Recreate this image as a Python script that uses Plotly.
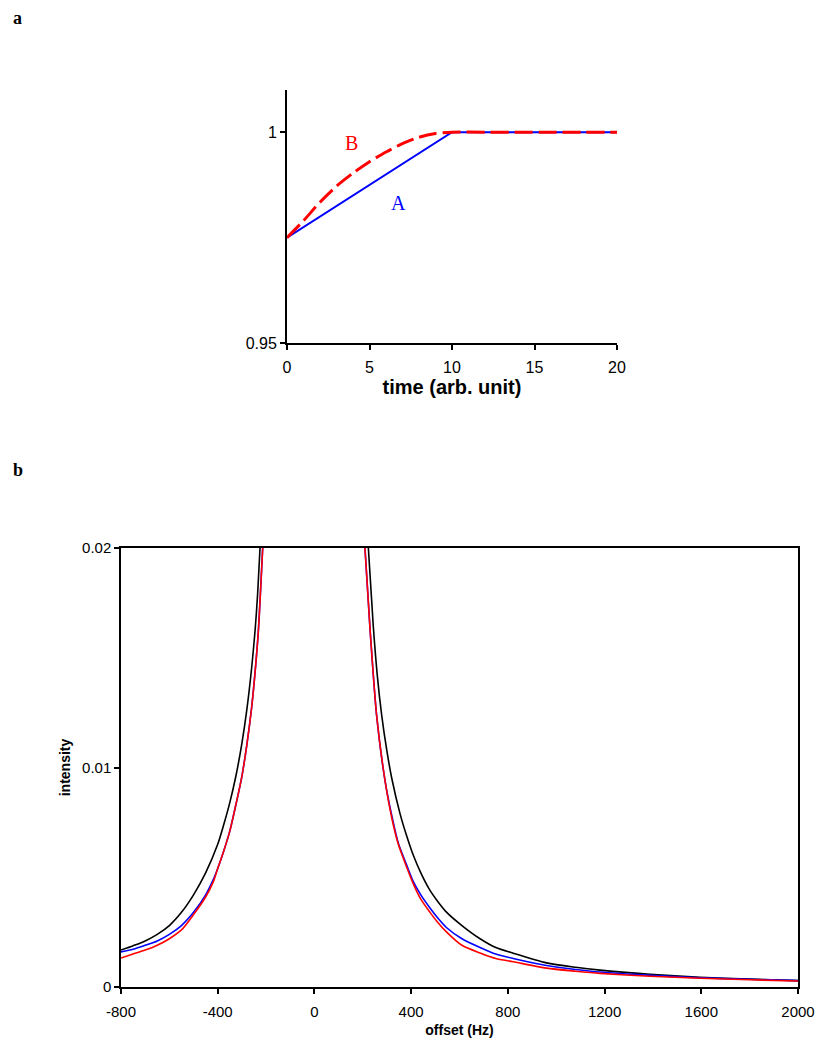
import plotly.graph_objects as go

# ---------- panel a data ----------
time_a = [0, 10, 20]
series_A = [0.975, 1.0, 1.0]
time_b = [0, 1, 2, 3, 4, 5, 6, 7, 8, 9, 10, 12, 14, 16, 18, 20]
series_B = [0.975, 0.979, 0.9834, 0.9872, 0.9903, 0.9930, 0.9953, 0.9973,
            0.9988, 0.9997, 1.0, 1.0, 1.0, 1.0, 1.0, 1.0]
a_xticks = [0, 5, 10, 15, 20]
a_yticks = [0.95, 1.0]
a_yticklabels = ["0.95", "1"]

# ---------- panel b data ----------
black_left_x = [-800, -750, -700, -650, -600, -550, -500, -450, -400, -375,
                -350, -325, -300, -280, -260, -245, -235, -225]
black_left_y = [0.00168, 0.00188, 0.0021, 0.0024, 0.0028, 0.0034, 0.0042,
                0.0052, 0.0065, 0.0074, 0.0084, 0.0096, 0.0111, 0.0126,
                0.0145, 0.0163, 0.0179, 0.0200]
black_right_x = [223, 243, 260, 278, 299, 320, 354, 381, 409, 440, 478, 510,
                 547, 610, 685, 750, 822, 960, 1080, 1181, 1388, 1594, 1801,
                 2000]
black_right_y = [0.0200, 0.0165, 0.0142, 0.0124, 0.0108, 0.0095, 0.0079,
                 0.0069, 0.0060, 0.0052, 0.0044, 0.0039, 0.0034, 0.0028,
                 0.0022, 0.0018, 0.00154, 0.00110, 0.00090, 0.00077,
                 0.00058, 0.00044, 0.00036, 0.00029]

blue_left_x = [-800, -750, -700, -650, -600, -550, -500, -450, -418, -400,
               -375, -350, -325, -300, -280, -260, -245, -232, -214]
blue_left_y = [0.0016, 0.00172, 0.0019, 0.0021, 0.0024, 0.0028, 0.0034,
               0.0042, 0.0049, 0.0054, 0.0062, 0.0071, 0.0083, 0.0096,
               0.0110, 0.0127, 0.0144, 0.0162, 0.0200]
blue_right_x = [209, 230, 257, 292, 320, 347, 380, 409, 440, 478, 506, 547,
                610, 685, 750, 822, 960, 1080, 1181, 1388, 1594, 1801, 2000]
blue_right_y = [0.0200, 0.0163, 0.0124, 0.0094, 0.0078, 0.00655, 0.0056,
                0.0048, 0.0042, 0.0036, 0.0032, 0.0027, 0.0022, 0.0018,
                0.0015, 0.0013, 0.00098, 0.00080, 0.00068, 0.00053, 0.00042,
                0.00035, 0.00029]

red_left_x = [-800, -750, -700, -650, -600, -550, -500, -450, -418, -400,
              -375, -350, -325, -300, -280, -260, -245, -232, -214]
red_left_y = [0.00132, 0.0015, 0.00168, 0.0019, 0.0022, 0.0026, 0.0033,
              0.0041, 0.0048, 0.0054, 0.0062, 0.0071, 0.0083, 0.0096,
              0.0110, 0.0127, 0.0144, 0.0162, 0.0200]
red_right_x = [209, 230, 257, 292, 320, 347, 380, 409, 440, 478, 506, 547,
               610, 685, 750, 822, 960, 1080, 1181, 1388, 1594, 1801, 2000]
red_right_y = [0.0200, 0.0163, 0.0124, 0.0094, 0.0077, 0.0065, 0.0055,
               0.0047, 0.0040, 0.0034, 0.0030, 0.0025, 0.0019, 0.00155,
               0.0013, 0.00115, 0.00086, 0.00072, 0.00062, 0.00049,
               0.0004, 0.00033, 0.00027]

b_xticks = [-800, -400, 0, 400, 800, 1200, 1600, 2000]
b_xticklabels = ["-800", "-400", "0", "400", "800", "1200", "1600", "2000"]
b_yticks = [0, 0.01, 0.02]
b_yticklabels = ["0", "0.01", "0.02"]


def join(lx, ly, rx, ry):
    return lx + [None] + rx, ly + [None] + ry


SANS = "Liberation Sans, Arial, sans-serif"
SERIF = "Liberation Serif, Times New Roman, serif"

fig = go.Figure()

# panel a
fig.add_trace(go.Scatter(x=time_a, y=series_A, mode="lines",
                         line=dict(color="#0000FF", width=2),
                         xaxis="x", yaxis="y", showlegend=False))
fig.add_trace(go.Scatter(x=time_b, y=series_B, mode="lines",
                         line=dict(color="#FF0000", width=3, dash="18px,6px",
                                   shape="spline", smoothing=0.6),
                         xaxis="x", yaxis="y", showlegend=False))

# panel b
curve_line = dict(width=1.6, shape="spline", smoothing=0.7)
bx, by = join(black_left_x, black_left_y, black_right_x, black_right_y)
fig.add_trace(go.Scatter(x=bx, y=by, mode="lines", connectgaps=False,
                         line=dict(color="#000000", **curve_line),
                         xaxis="x2", yaxis="y2", showlegend=False))
ux, uy = join(blue_left_x, blue_left_y, blue_right_x, blue_right_y)
fig.add_trace(go.Scatter(x=ux, y=uy, mode="lines", connectgaps=False,
                         line=dict(color="#0000FF", **curve_line),
                         xaxis="x2", yaxis="y2", showlegend=False))
rx, ry = join(red_left_x, red_left_y, red_right_x, red_right_y)
fig.add_trace(go.Scatter(x=rx, y=ry, mode="lines", connectgaps=False,
                         line=dict(color="#FF0000", **curve_line),
                         xaxis="x2", yaxis="y2", showlegend=False))

# page body has an 8px margin: figure covers screen px 8..820 x 8..1042
OFF = 8
W, H = 812, 1034


def fx(sx):
    return (sx - OFF) / W


def fy(sy):
    return 1 - (sy - OFF) / H


fig.update_layout(
    width=W, height=H,
    margin=dict(l=0, r=0, t=0, b=0, autoexpand=False),
    paper_bgcolor="white", plot_bgcolor="white",
    font=dict(family=SANS, color="black"),
    xaxis=dict(domain=[fx(287), fx(617)], range=[0, 20],
               tickvals=a_xticks, ticks="outside", ticklen=5, tickwidth=2,
               tickcolor="black", showline=True, linecolor="black",
               linewidth=2, showgrid=False, zeroline=False,
               automargin=False, ticklabelstandoff=4,
               tickfont=dict(size=16, family=SANS),
               title=dict(text="<b>time (arb. unit)</b>",
                          font=dict(size=20, family=SANS), standoff=4),
               anchor="y"),
    yaxis=dict(domain=[fy(343), fy(90)], range=[0.95, 1.01],
               tickvals=a_yticks, ticktext=a_yticklabels,
               ticks="outside", ticklen=5, tickwidth=2, tickcolor="black",
               showline=True, linecolor="black", linewidth=2,
               showgrid=False, zeroline=False, automargin=False,
               tickfont=dict(size=16, family=SANS), anchor="x"),
    xaxis2=dict(domain=[fx(121), fx(798)], range=[-800, 2000],
                tickvals=b_xticks, ticktext=b_xticklabels,
                ticks="outside", ticklen=5, tickwidth=1.5, tickcolor="black",
                showline=True, mirror=True, linecolor="black", linewidth=1.5,
                showgrid=False, zeroline=False, automargin=False,
                ticklabelstandoff=5,
                tickfont=dict(size=15, family=SANS),
                title=dict(text="<b>offset (Hz)</b>",
                           font=dict(size=14, family=SANS), standoff=6),
                anchor="y2"),
    yaxis2=dict(domain=[fy(987), fy(548)], range=[0, 0.02],
                tickvals=b_yticks, ticktext=b_yticklabels,
                ticks="outside", ticklen=5, tickwidth=1.5, tickcolor="black",
                showline=True, mirror=True, linecolor="black", linewidth=1.5,
                showgrid=False, zeroline=False, automargin=False,
                tickfont=dict(size=15, family=SANS),
                title=dict(text="<b>intensity</b>",
                           font=dict(size=14, family=SANS), standoff=8),
                anchor="x2"),
    annotations=[
        dict(text="<b>a</b>", x=fx(17.5), y=fy(17.5), xref="paper",
             yref="paper", showarrow=False, xanchor="center",
             yanchor="middle", font=dict(size=18, family=SERIF)),
        dict(text="<b>b</b>", x=fx(18), y=fy(470), xref="paper",
             yref="paper", showarrow=False, xanchor="center",
             yanchor="middle", font=dict(size=18, family=SERIF)),
        dict(text="B", x=3.9, y=0.9975, xref="x", yref="y",
             showarrow=False, xanchor="center", yanchor="middle",
             font=dict(size=20, family=SERIF, color="#FF0000")),
        dict(text="A", x=6.75, y=0.9833, xref="x", yref="y",
             showarrow=False, xanchor="center", yanchor="middle",
             font=dict(size=20, family=SERIF, color="#0000FF")),
    ],
)

fig.write_html("out.html")
